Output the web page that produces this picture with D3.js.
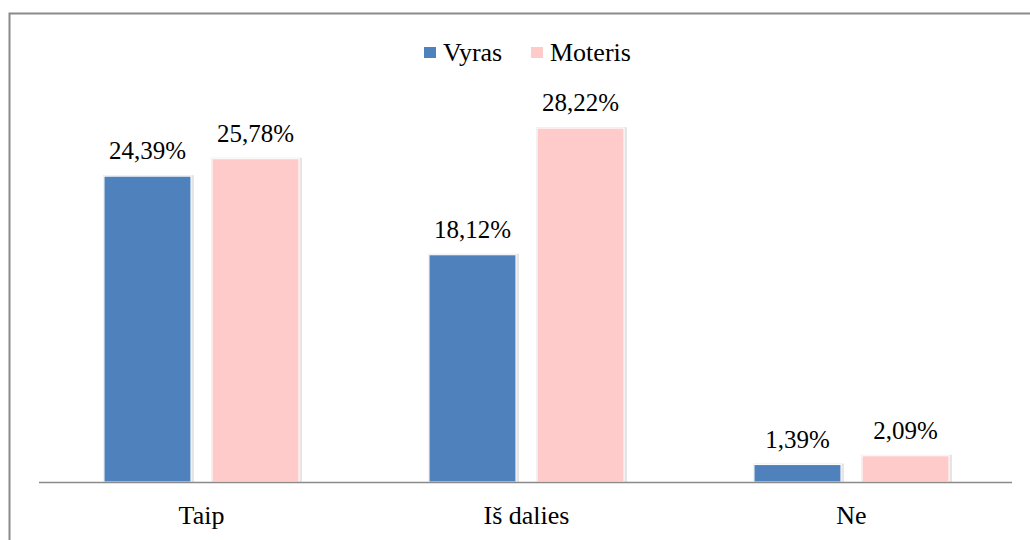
<!DOCTYPE html>
<html>
<head>
<meta charset="utf-8">
<script src="https://cdn.jsdelivr.net/npm/d3@7"></script>
</head>
<body>
<svg id="chart" width="1030" height="540" style="position:absolute;left:0;top:0"></svg>
<script>
// categories and series
var categories = ["Taip", "Iš dalies", "Ne"];
var seriesNames = ["Vyras", "Moteris"];
var vyras = [24.39, 18.12, 1.39];
var moteris = [25.78, 28.22, 2.09];
var colors = ["#4F81BD", "#FFCACA"];

var fontName = "'Liberation Serif'";

var baseY = 482;
var svg = d3.select("#chart");

// outer frame
svg.append("rect")
   .attr("x", 9.5).attr("y", 13.5)
   .attr("width", 1100).attr("height", 600)
   .attr("fill", "none")
   .attr("stroke", "#8a8a8a")
   .attr("stroke-width", 2);

//x scales
var x0 = d3.scaleBand()
           .domain(categories)
           .range([39, 1014]);

var x1 = d3.scaleBand()
           .domain(seriesNames)
           .range([0, 195])
           .paddingInner(0.195);

var offset = (x0.bandwidth() - 195) / 2;

//y scale
var yScale = d3.scaleLinear()
               .domain([0, 30])
               .range([baseY, baseY - 376.2]);

var rows = categories.map(function(c, i){
  return {cat: c, vals: [
    {name: seriesNames[0], v: vyras[i], color: colors[0]},
    {name: seriesNames[1], v: moteris[i], color: colors[1]}
  ]};
});

var groups = svg.selectAll(".grp")
    .data(rows)
    .enter()
    .append("g")
    .attr("class", "grp")
    .attr("transform", function(d){ return "translate(" + (x0(d.cat) + offset) + ",0)"; });

// soft shadow behind bars
groups.selectAll(".shadow")
    .data(function(d){ return d.vals; })
    .enter()
    .append("rect")
      .attr("class", "shadow")
      .attr("x", function(d){ return x1(d.name) - 1; })
      .attr("y", function(d){ return yScale(d.v) - 1; })
      .attr("width", x1.bandwidth() + 4)
      .attr("height", function(d){ return baseY - yScale(d.v) + 1; })
      .attr("fill", "#000")
      .attr("fill-opacity", 0.1);

groups.selectAll(".bar")
    .data(function(d){ return d.vals; })
    .enter()
    .append("rect")
      .attr("class", "bar")
      .attr("x", function(d){ return x1(d.name); })
      .attr("y", function(d){ return yScale(d.v); })
      .attr("width", x1.bandwidth())
      .attr("height", function(d){ return baseY - yScale(d.v); })
      .attr("fill", function(d){ return d.color; })
      .attr("stroke", "#fff")
      .attr("stroke-width", 1);

// value labels
groups.selectAll(".val")
    .data(function(d){ return d.vals; })
    .enter()
    .append("text")
      .attr("x", function(d){ return x1(d.name) + x1.bandwidth() / 2; })
      .attr("y", function(d){ return yScale(d.v) - 17; })
      .attr("text-anchor", "middle")
      .style("font-family", fontName)
      .style("font-size", "25px")
      .text(function(d){ return d.v.toFixed(2).replace(".", ",") + "%"; });

// category labels
svg.selectAll(".cat")
    .data(categories)
    .enter()
    .append("text")
      .attr("x", function(d){ return x0(d) + x0.bandwidth() / 2; })
      .attr("y", baseY + 42)
      .attr("text-anchor", "middle")
      .style("font-family", fontName)
      .style("font-size", "26px")
      .text(function(d){ return d; });

svg.append("line")
   .attr("x1", 39).attr("x2", 1012)
   .attr("y1", baseY + 0.5).attr("y2", baseY + 0.5)
   .attr("stroke", "#8a8a8a")
   .attr("stroke-width", 1.5);

// legend
var legendX = [424, 531];
var legend = svg.selectAll(".leg")
    .data(seriesNames)
    .enter()
    .append("g")
    .attr("transform", function(d, i){ return "translate(" + legendX[i] + ",0)"; });

legend.append("rect")
    .attr("x", 0).attr("y", 47)
    .attr("width", 12).attr("height", 11)
    .attr("fill", function(d, i){ return colors[i]; });

legend.append("text")
    .attr("x", 19).attr("y", 61)
    .style("font-family", fontName)
    .style("font-size", "26px")
    .text(function(d){ return d; });
</script>
</body>
</html>
